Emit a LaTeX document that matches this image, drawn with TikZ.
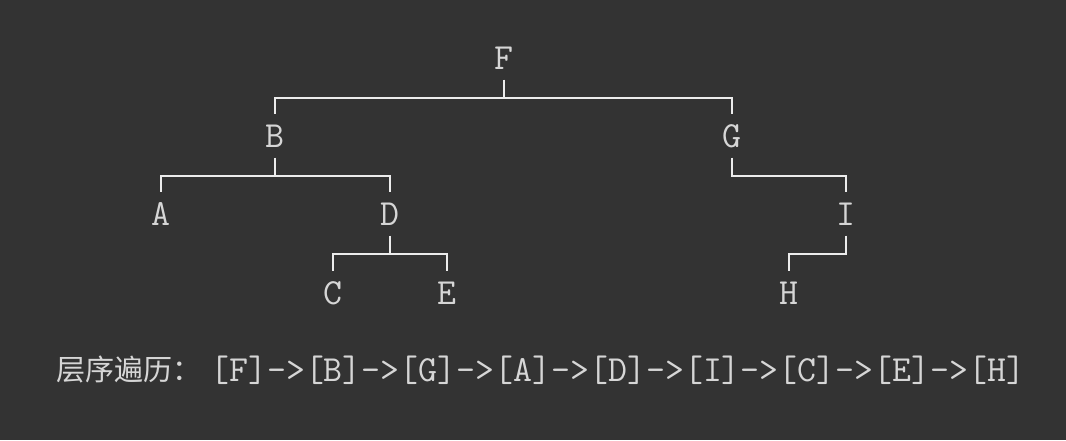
\documentclass[tikz,border=0pt]{standalone}
\usepackage{fontspec}
\newfontfamily\cjk{Noto Sans CJK SC}
\definecolor{bgcol}{HTML}{333333}
\definecolor{txtcol}{HTML}{D6D6D6}
\definecolor{linecol}{HTML}{ECECEC}

\begin{document}
\begin{tikzpicture}[x=0.75pt,y=-0.75pt,
  every node/.style={text=txtcol, font=\ttfamily\fontsize{27.6pt}{30pt}\selectfont, inner sep=0pt, minimum height=32pt},
  edge/.style={draw=linecol, line width=1.5pt, line join=miter}]
  \fill[bgcol] (0,0) rectangle (1066,440);
  \useasboundingbox (0,0) rectangle (1066,440);
  \path (504,58) node (F){F}
    (275,136) node (B){B} (732,136) node (G){G}
    (161,214) node (A){A} (390,214) node (D){D} (846,214) node (I){I}
    (333,293) node (C){C} (447,293) node (E){E} (789,293) node (H){H};
  \draw[edge] (F.south) -- ++(0,18.5) -| (B.north) (F.south) ++(0,18.5) -| (G.north);
  \draw[edge] (B.south) -- ++(0,18.5) -| (A.north) (B.south) ++(0,18.5) -| (D.north);
  \draw[edge] (D.south) -- ++(0,18.5) -| (C.north) (D.south) ++(0,18.5) -| (E.north);
  \draw[edge] (G.south) -- ++(0,18.5) -| (I.north);
  \draw[edge] (I.south) -- ++(0,18.5) -| (H.north);
  \node[anchor=west, font=\cjk\fontsize{21.8pt}{26pt}\selectfont] (title) at (56,370) {层序遍历：};
  \node[anchor=west] (order) at (210,370) {[F]->[B]->[G]->[A]->[D]->[I]->[C]->[E]->[H]};
\end{tikzpicture}
\end{document}
